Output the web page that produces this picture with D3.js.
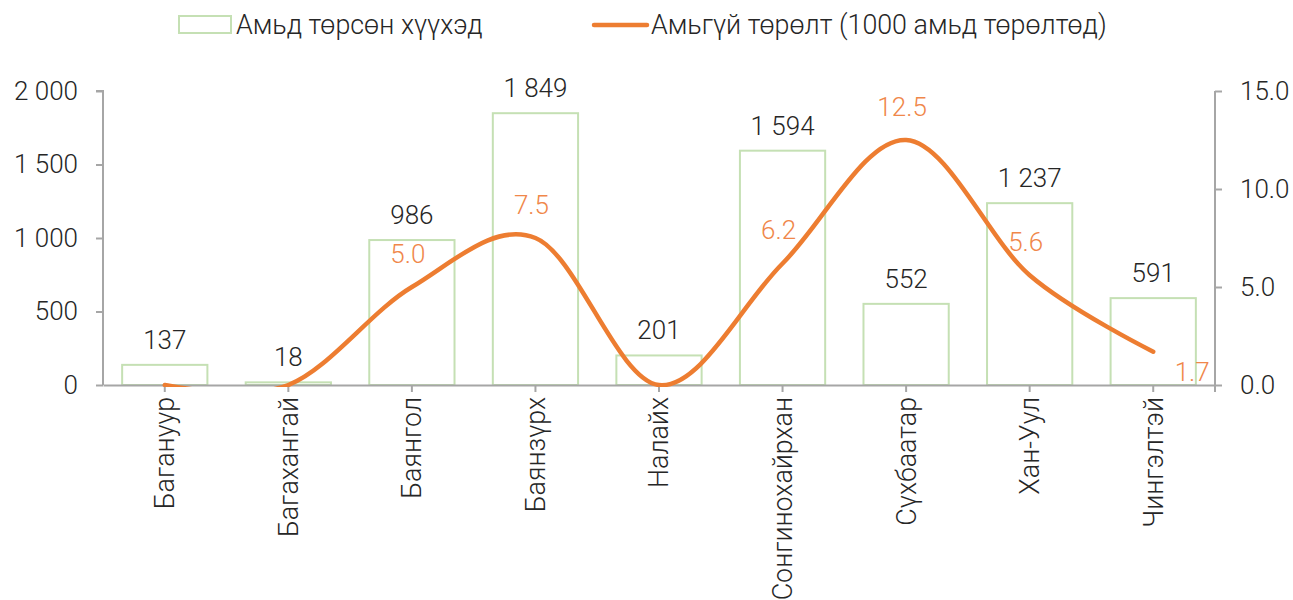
<!DOCTYPE html>
<html><head><meta charset="utf-8">
<script src="https://cdn.jsdelivr.net/npm/d3@7"></script>
<style>
body{margin:0;background:#fff;}
svg{display:block;font-family:Roboto,"Noto Sans",sans-serif;font-weight:300;}
</style></head><body>
<svg id="c" width="1293" height="600"></svg>
<script>
const categories = ["Баганууp","Багахангай","Баянгол","Баянзүрх","Налайх","Сонгинохайрхан","Сүхбаатар","Хан-Уул","Чингэлтэй"];
const liveBirths = [137, 18, 986, 1849, 201, 1594, 552, 1237, 591];
const stillbirthRate = [0.0, 0.0, 5.0, 7.5, 0.0, 6.2, 12.5, 5.6, 1.7];
const leftTicks = [0, 500, 1000, 1500, 2000];
const rightTicks = [0, 5, 10, 15];
const seriesNames = ["Амьд төрсөн хүүхэд", "Амьгүй төрөлт (1000 амьд төрөлтөд)"];

const svg = d3.select("#c");
const L = 103, R = 1215, T = 91, B = 385;
const axisColor = "#a6a6a6", textColor = "#262626", barStroke = "#c5e0b4", lineColor = "#ed7d31";
const fs = 26, fsBig = 26.8;

const x = d3.scaleBand().domain(categories).range([L, R]).paddingInner(0.31).paddingOuter(0.155);
const xc = d => x(d) + x.bandwidth() / 2;
const yL = d3.scaleLinear().domain([0, 2000]).range([B, T]);
const yR = d3.scaleLinear().domain([0, 15]).range([B, T]);

svg.append("defs").append("clipPath").attr("id", "plotclip")
  .append("rect").attr("x", L - 20).attr("y", 0).attr("width", R - L + 40).attr("height", B + 2);

// Bars
svg.append("g").selectAll("rect").data(categories).join("rect")
  .attr("x", d => x(d)).attr("width", x.bandwidth())
  .attr("y", (d, i) => yL(liveBirths[i])).attr("height", (d, i) => B - yL(liveBirths[i]))
  .attr("fill", "#fff").attr("stroke", barStroke).attr("stroke-width", 2);

// Left axis
const gl = svg.append("g").attr("transform", `translate(${L},0)`)
  .call(d3.axisLeft(yL).tickValues(leftTicks).tickSize(7).tickPadding(18)
    .tickFormat(d => d3.format(",")(d).replace(/,/g, " ")));
// Right axis
const gr = svg.append("g").attr("transform", `translate(${R},0)`)
  .call(d3.axisRight(yR).tickValues(rightTicks).tickSize(7).tickPadding(18).tickFormat(d3.format(".1f")));
// Bottom axis
const gb = svg.append("g").attr("transform", `translate(0,${B})`)
  .call(d3.axisBottom(x).tickSize(7).tickSizeOuter(0).tickPadding(8));
gb.selectAll(".tick text").attr("transform", "rotate(-90)").attr("text-anchor", "end")
  .attr("x", -12).attr("y", 0).attr("dy", "0.35em");
[gl, gr, gb].forEach(g => {
  g.selectAll(".domain, .tick line").attr("stroke", axisColor).attr("stroke-width", 2);
  g.selectAll("text").attr("fill", textColor).style("font-size", fs + "px").style("font-family", "Roboto, sans-serif").style("font-weight", 300);
});
gb.selectAll(".tick text").style("font-size", fsBig + "px");
gl.select(".domain").attr("d", `M-7,${T}H0V${B}`);
gr.select(".domain").attr("d", `M0,${T}V${B + 7}`);

// Line
const pts = categories.map((c, i) => [xc(c), yR(stillbirthRate[i])]);
svg.append("path").attr("clip-path", "url(#plotclip)")
  .attr("d", d3.line().curve(d3.curveCardinal.tension(0))(pts))
  .attr("fill", "none").attr("stroke", lineColor).attr("stroke-width", 4.5).attr("stroke-linecap", "round");

// Bar labels
svg.append("g").selectAll("text").data(categories).join("text")
  .attr("x", d => xc(d)).attr("y", (d, i) => yL(liveBirths[i]) - 16)
  .attr("text-anchor", "middle").attr("fill", textColor).style("font-size", fs + "px")
  .text((d, i) => d3.format(",")(liveBirths[i]).replace(/,/g, " "));

// Line labels (non-zero only)
const last = categories.length - 1;
const lineLabels = categories.map((c, i) => ({ c, i, v: stillbirthRate[i] })).filter(d => d.v > 0);
svg.append("g").selectAll("text").data(lineLabels).join("text")
  .attr("x", d => xc(d.c) + (d.i === last ? 39 : -4))
  .attr("y", d => yR(d.v) + (d.i === last ? 29 : -24))
  .attr("text-anchor", "middle").attr("fill", "#f0874a").style("font-size", fs + "px")
  .text(d => d3.format(".1f")(d.v));

// Legend
const lg = svg.append("g");
lg.append("rect").attr("x", 179).attr("y", 16).attr("width", 52).attr("height", 17)
  .attr("fill", "#fff").attr("stroke", barStroke).attr("stroke-width", 2);
lg.append("text").attr("x", 236).attr("y", 34).attr("fill", textColor).style("font-size", fsBig + "px").text(seriesNames[0]);
lg.append("line").attr("x1", 594).attr("x2", 647).attr("y1", 25).attr("y2", 25)
  .attr("stroke", lineColor).attr("stroke-width", 4.5).attr("stroke-linecap", "round");
lg.append("text").attr("x", 651).attr("y", 34).attr("fill", textColor).style("font-size", fsBig + "px").text(seriesNames[1]);
</script>
</body></html>
